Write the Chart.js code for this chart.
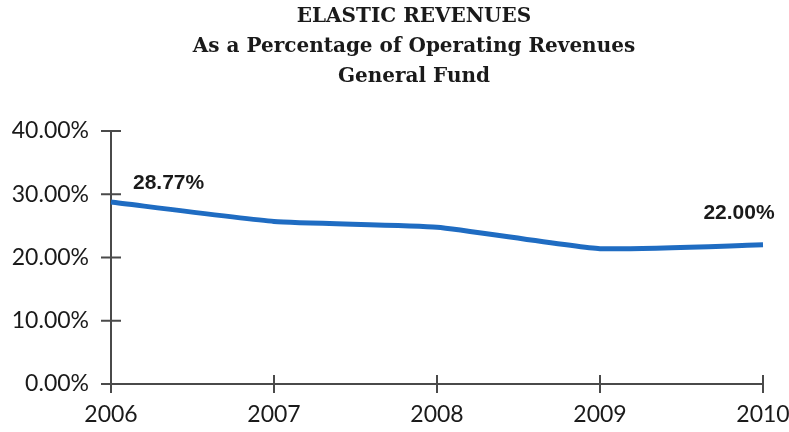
<!DOCTYPE html>
<html>
<head>
<meta charset="utf-8">
<script src="https://cdn.jsdelivr.net/npm/chart.js@4.4.1/dist/chart.umd.min.js"></script>
<style>
  html, body { margin: 0; padding: 0; background: #fff; }
  #wrap { width: 789px; height: 432px; }
</style>
</head>
<body>
<div id="wrap"><canvas id="elasticRevenues"></canvas></div>
<script>
const years = ['2006', '2007', '2008', '2009', '2010'];
const elasticShare = [28.77, 25.7, 24.8, 21.4, 22.00];
const yTicks = [0, 10, 20, 30, 40];
const titleLines = ['ELASTIC REVENUES', 'As a Percentage of Operating Revenues', 'General Fund'];

const axisColor = '#4a4a4a';

// title drawn by hand so it can sit a little right of the canvas centre
const titleBlock = {
    id: 'titleBlock',
    afterDraw(chart) {
        const ctx = chart.ctx;
        ctx.save();
        ctx.fillStyle = '#1a1a1a';
        ctx.font = 'bold 20px "DejaVu Serif"';
        ctx.textAlign = 'center';
        ctx.textBaseline = 'middle';
        titleLines.forEach((line, i) => ctx.fillText(line, 414, 17 + i * 30));
        ctx.restore();
    }
};

// tick marks that cross the axis line on both sides
const crossTicks = {
    id: 'crossTicks',
    afterDraw(chart) {
        const ctx = chart.ctx;
        const x = chart.scales.x;
        const y = chart.scales.y;
        ctx.save();
        ctx.strokeStyle = axisColor;
        ctx.lineWidth = 2;
        ctx.beginPath();
        yTicks.forEach(v => {
            const py = y.getPixelForValue(v);
            ctx.moveTo(x.left - 10, py);
            ctx.lineTo(x.left + 10, py);
        });
        years.forEach((yr, i) => {
            const px = x.getPixelForValue(i);
            ctx.moveTo(px, y.bottom - 9);
            ctx.lineTo(px, y.bottom + 9);
        });
        ctx.stroke();
        ctx.restore();
    }
};

// value labels on the first and last points
const endLabels = {
    id: 'endLabels',
    afterDatasetsDraw(chart) {
        const ctx = chart.ctx;
        const pts = chart.getDatasetMeta(0).data;
        const last = pts.length - 1;
        ctx.save();
        ctx.fillStyle = '#1a1a1a';
        ctx.font = 'bold 21px "Liberation Sans"';
        ctx.textBaseline = 'middle';
        ctx.textAlign = 'left';
        ctx.fillText(elasticShare[0].toFixed(2) + '%', pts[0].x + 22, pts[0].y - 19);
        ctx.textAlign = 'center';
        ctx.fillText(elasticShare[last].toFixed(2) + '%', pts[last].x - 24, pts[last].y - 32);
        ctx.restore();
    }
};

new Chart(document.getElementById('elasticRevenues'), {
    type: 'line',
    data: {
        labels: years,
        datasets: [{
            data: elasticShare,
            borderColor: '#1f6cc2',
            borderWidth: 5,
            pointRadius: 0,
            tension: 0.15,
            fill: false
        }]
    },
    options: {
        responsive: true,
        maintainAspectRatio: false,
        animation: false,
        layout: { padding: { top: 131, right: 0, left: 0, bottom: 0 } },
        plugins: {
            legend: { display: false },
            title: { display: false },
            tooltip: { enabled: false }
        },
        scales: {
            x: {
                offset: false,
                grid: { display: false, drawTicks: false },
                border: { color: axisColor, width: 2 },
                ticks: {
                    color: '#1a1a1a',
                    font: { family: 'Lato', size: 23 },
                    padding: 17,
                    maxRotation: 0
                },
                afterFit(scale) {
                    scale.height = 48;
                    scale.paddingLeft = 0;
                    scale.paddingRight = 26;
                }
            },
            y: {
                min: 0,
                max: 40,
                grid: { display: false, drawTicks: false },
                border: { color: axisColor, width: 2 },
                ticks: {
                    stepSize: 10,
                    color: '#1a1a1a',
                    font: { family: 'Lato', size: 23 },
                    padding: 22,
                    callback: v => v.toFixed(2) + '%'
                },
                afterFit(scale) { scale.width = 111; }
            }
        }
    },
    plugins: [titleBlock, crossTicks, endLabels]
});
</script>
</body>
</html>
